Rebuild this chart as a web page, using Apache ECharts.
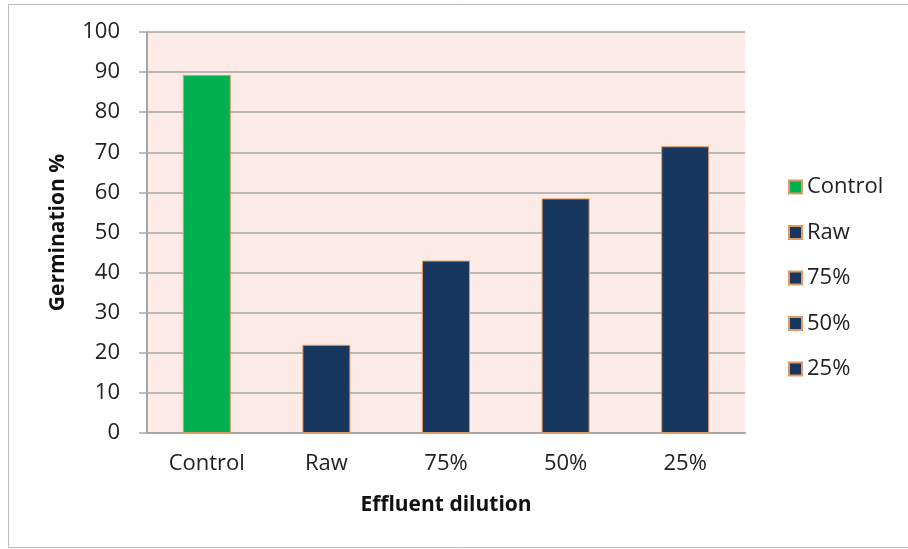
<!DOCTYPE html>
<html>
<head>
<meta charset="utf-8">
<script src="https://cdn.jsdelivr.net/npm/echarts@6/dist/echarts.min.js"></script>
<style>
  html, body { margin: 0; padding: 0; background: #ffffff; }
  #chart { width: 908px; height: 549px; }
</style>
</head>
<body>
<div id="chart"></div>
<script>
// Germination percentage for each effluent dilution
const categories = ['Control', 'Raw', '75%', '50%', '25%'];
const germination = [89.3, 22, 43, 58.5, 71.5];
const barColors = ['#00B050', '#17375E', '#17375E', '#17375E', '#17375E'];
const yTicks = { min: 0, max: 100, step: 10 };

const FONT = '"Open Sans", "Noto Sans", sans-serif';

// One series per category so each gets its own legend entry;
// stacking keeps every bar centred in its category slot.
const series = categories.map((name, i) => ({
  name: name,
  type: 'bar',
  stack: 'g',
  barWidth: 48,
  data: categories.map((_, j) => (j === i ? germination[i] : '-')),
  itemStyle: {
    color: barColors[i],
    borderColor: '#E39A62',
    borderWidth: 1
  }
}));

const chart = echarts.init(document.getElementById('chart'), null, { renderer: 'canvas' });
chart.setOption({
  animation: false,
  backgroundColor: '#ffffff',
  graphic: [{
    type: 'rect',
    shape: { x: 8.5, y: 4.5, width: 905, height: 543 },
    style: { fill: 'none', stroke: '#BDBDBD', lineWidth: 1 },
    silent: true,
    z: -1
  }],
  grid: {
    left: 147, right: 163, top: 32, bottom: 116,
    show: true,
    backgroundColor: '#FCEBE6',
    borderWidth: 0
  },
  legend: {
    orient: 'vertical',
    left: 783,
    top: 171,
    itemWidth: 13,
    itemHeight: 13,
    itemGap: 23.5,
    icon: 'rect',
    textStyle: { fontFamily: FONT, fontSize: 22, color: '#222222' },
    data: categories
  },
  xAxis: {
    type: 'category',
    data: categories,
    name: 'Effluent dilution',
    nameLocation: 'middle',
    nameGap: 62,
    nameTextStyle: { fontFamily: FONT, fontSize: 21, fontWeight: 'bold', color: '#111111' },
    axisLine: { lineStyle: { color: '#A6A6A6', width: 2 } },
    axisTick: { show: false },
    axisLabel: { fontFamily: FONT, fontSize: 22, color: '#222222', margin: 20 },
    splitLine: { show: false }
  },
  yAxis: {
    type: 'value',
    min: yTicks.min,
    max: yTicks.max,
    interval: yTicks.step,
    name: 'Germination %',
    nameLocation: 'middle',
    nameGap: 78,
    nameRotate: 90,
    nameTextStyle: { fontFamily: FONT, fontSize: 21, fontWeight: 'bold', color: '#111111' },
    axisLine: { show: true, lineStyle: { color: '#A6A6A6', width: 2 } },
    axisTick: { show: true, length: 8, lineStyle: { color: '#A6A6A6', width: 1.5 } },
    axisLabel: { fontFamily: FONT, fontSize: 22, color: '#222222', margin: 27 },
    splitLine: { show: true, lineStyle: { color: '#A6A6A6', width: 1.5 } }
  },
  series: series
});
</script>
</body>
</html>
